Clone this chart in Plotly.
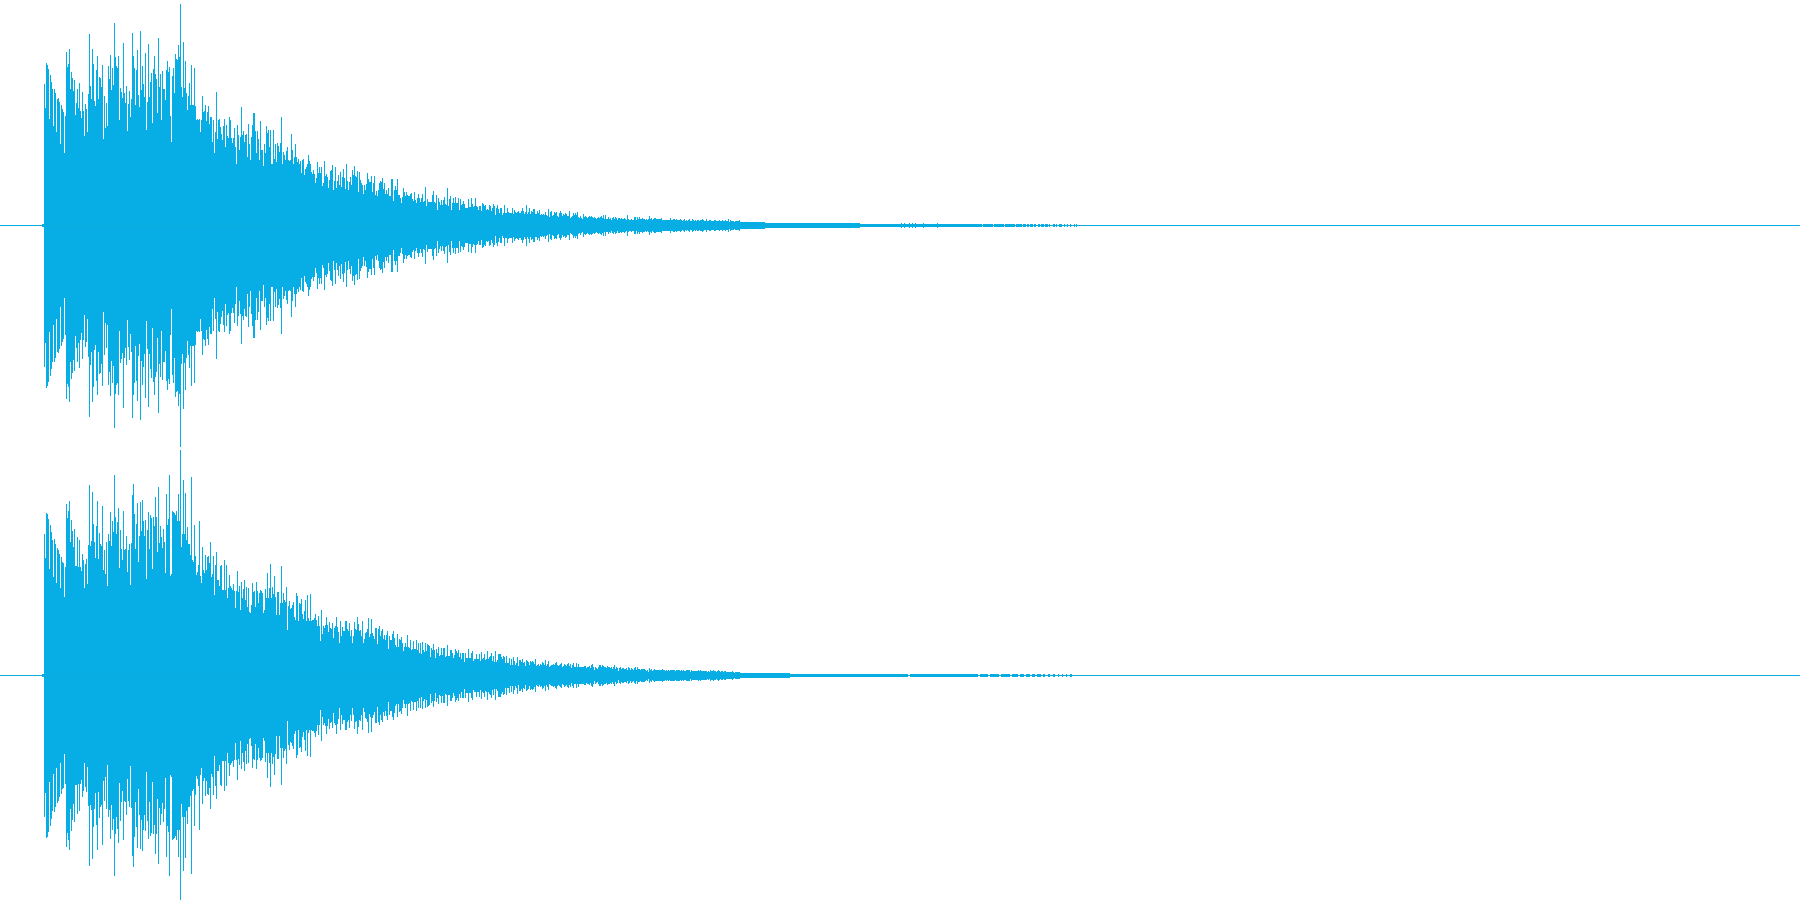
import plotly.graph_objects as go

BLUE = "#06AEE5"

# Peak amplitude per one-column time step.
ch1_from_44 = [141,117,162,160,156,106,150,143,136,99,136,132,93,126,127,123,81,120,116,113,72,109,173,158,161,176,136,153,147,134,145,110,122,136,117,142,114,107,133,114,89,121,116,93,131,191,139,126,176,161,124,119,155,169,126,148,147,138,160,86,129,97,122,99,159,146,170,135,157,140,202,168,159,157,169,105,137,133,127,182,132,122,139,94,121,134,108,126,192,169,157,120,155,175,130,118,194,135,159,141,128,172,95,123,181,128,143,152,102,156,169,151,146,112,187,138]
ch1_from_160 = [151,105,154,136,136,125,155,164,153,158,109,83,149,157,132,171,166,165,180,168,221,138,128,183,137,164,132,115,129,142,120,160,120,120,157,119,105,106,105,106,93,105,129,113,114,120,104,113,119,101,108,108,83,105,72,93,133,86,105,106,98,91,85,99,106,78,100,89,87,108,105,87,82,87,97,78,61,100,90,75,88,118,90,94,83,90,91,68,101,81,65,88,100,112,112,94,72,94,86,65,104,75,75,59,81,72,99,92,95,78,95,61,61,95,66,81,63,82,79,73]
ch1_from_280 = [82,108,61,73,70,65,74,78,65,64,65,91,75,61,68,81,68,63,66,61,64,52,65,66,50,56,58,61,70,64,61,53,51,55,51,42,47,63,52,58,52,58,39,42,64,49,51,48,37,45,54,55,60,35,44,58,37,44,50,40,53,38,48,56,47,36,61,44,35,43,48,40,55,50,59,49,48,54,33,53,45,42,40,31,40,35,41,52,46,43,43,49,33,42,49,30,34,29,35,42,44,43,47,36,42,31,35,31,37,29,29,46,46,24,35,39,35,46,30,30,27,22,28,37,33,29,33,30,29,29,31,32,26,24,33,25,22,27,31,27,23,27,31,23,24,38,19,26,23,23,23,23,30,34,23,22,30,15,27,23]
ch1_from_440 = [20,25,20,25,28,21,20,37,19,26,29,15,22,27,22,28,22,22,27,15,26,20,21,24,21,17,17,17,26,18,18,27,21,18,19,27,19,18,15,19,19,14,22,21,19,20,15,16,15,20,19,14,17,21,19,10,17,20,16,12,17,17,10,12,20,12,12,17,13,12,12,12,17,11,15,13,12,13,14,12,12,14,17,14,11,13,20,11,13,17,11,14,13,16,16,11,11,14,12,15,
10,11,10,11,10,13,10,9,16,8,13,14,9,10,13,12,13,9,8,12,14,12,9,11,10,12,11,9,9,14,7,8,9,12,10,12,10,13,8,7,9,7,6,11,8,9,8,7,8,9,8,9,8,7,8,7,6,7,8,7,8,9,7,10,6,10,6,6,8,6,7,5,7,8,6,8,7,5,7,7,6,7,6,6,7,6,5,10,6,5,5,6,5,5,8,8,5,8,6,8,
6,6,7,6,6,5,6,5,6,9,6,7,5,6,7,7,6,6,6,6,6,7,5,5,5,5,5,5,5,5,7,5,5,6,6,5,6,5,5,5,6,5,4,5,6,4,5,4,5,6,4,4,6,5,4,5,4,5,5,4,5,5,6,5,4,4,6,4,4,5,5,4,4,4,5,5,4,4,4,5,4,4,5,4,4,5,4,4,6,3,5,4,4,4,3,4,4,4,4,5]

ch2_from_44 = [141,117,162,161,156,106,150,143,135,98,136,131,92,127,125,121,87,118,113,112,78,108,171,157,164,174,133,155,144,128,146,109,109,138,108,135,108,104,121,115,87,111,116,91,130,190,129,134,183,151,133,117,149,174,116,142,131,129,169,105,125,101,133,89,141,134,163,129,154,143,200,158,141,153,167,107,145,126,115,164,125,126,139,103,125,131,90,132,180,191,161,126,151,172,113,139,173,144,175,154,139,155,96,145,163,126,160,157,106,158,149,178,158,123,188,132]
ch2_from_160 = [149,138,127,146,133,102,181,150,156,200,99,101,164,163,162,160,164,154,181,154,225,128,141,195,141,182,135,148,131,131,120,198,115,113,150,119,100,103,110,154,99,92,128,105,102,120,105,118,119,112,133,98,101,119,80,110,123,95,95,89,109,110,85,85,115,85,110,77,87,100,89,87,85,91,84,67,84,104,83,89,65,93,77,86,95,75,88,68,87,63,62,70,92,83,84,68,93,84,72,82,85,84,82,62,65,86,77,102,77,87,111,77,88,81,99,78,60,83,83,60]
ch2_from_280 = [72,109,72,82,75,73,88,45,69,74,66,67,70,73,58,55,82,79,54,72,71,76,61,56,64,75,54,80,57,54,81,54,55,55,57,61,55,49,59,49,34,65,41,49,47,50,58,50,43,53,47,46,52,37,47,49,58,48,43,32,54,39,48,44,44,54,54,46,44,52,39,45,32,39,53,46,45,58,51,44,45,39,54,32,36,42,43,46,57,38,41,56,42,39,36,47,47,31,46,49,39,44,46,36,40,35,40,44,26,39,35,35,41,44,37,30,28,41,28,36,35,38,32,24,28,32,28,40,28,27,35,25,26,34,26,26,35,25,32,22,32,21,33,25,23,32,24,31,30,29,18,27,25,31,25,17,26,22,28,19]
ch2_from_440 = [20,27,20,27,27,18,19,30,19,19,25,25,22,17,20,26,24,22,25,18,22,16,22,22,13,22,17,17,26,17,17,22,24,14,16,16,21,16,16,21,14,23,16,17,21,15,16,24,16,18,19,22,14,19,13,24,13,15,21,21,21,18,16,19,18,12,19,12,12,17,10,16,10,18,14,10,12,18,9,15,15,13,16,12,13,9,15,14,13,10,14,13,14,13,11,16,9,10,11,9,
11,10,13,12,10,15,9,11,14,8,9,10,10,11,10,12,13,10,9,10,11,12,8,9,11,10,9,11,12,9,11,7,10,12,8,8,12,8,11,8,8,8,8,8,9,9,7,8,8,9,7,10,11,8,5,8,7,6,8,10,10,8,10,9,8,8,7,9,8,8,7,8,6,8,10,6,8,7,4,7,8,6,7,7,6,6,7,5,8,7,5,7,6,5,7,8,5,8,6,6,
5,6,6,6,6,5,4,5,3,7,5,6,4,5,6,5,5,5,5,5,5,5,6,5,5,4,5,4,5,4,5,5,5,5,5,4,5,5,5,5,4,5,4,5,4,4,5,5,5,5,3,5,4,4,4,4,4,4,5,4,5,4,4,4,4,4,4,3,4,3,5,4,4,5,4,4,3,4,5,4,3,4,4,3,4,4,3,3,3,3,3,3,4,3,2,3,3,3,3,3]

# Quiet tail: spans of near-constant amplitude (start, end, amplitude).
ch1_tail_start = [42,740,765,860,900,901,904,909,912,915,923,937,983,994,1005,1016,1023,1027,1030,1034,1038,1041,1045,1049,1053,1056,1059,1064,1067,1070,1074,1076]
ch1_tail_end   = [44,765,860,900,982,902,905,910,913,916,924,938,993,1004,1015,1022,1026,1029,1033,1036,1040,1044,1048,1050,1055,1057,1062,1065,1068,1071,1075,1077]
ch1_tail_amp   = [1,3,2,1,1,2,2,2,2,2,2,2,1,1,1,1,1,1,1,1,1,1,1,1,1,1,1,1,1,1,1,1]
ch2_tail_start = [42,740,790,910,980,990,1001,1012,1020,1026,1032,1037,1043,1048,1053,1058,1062,1066,1070]
ch2_tail_end   = [44,790,908,978,988,999,1010,1018,1024,1030,1035,1041,1045,1050,1055,1059,1063,1067,1072]
ch2_tail_amp   = [1,2,1,1,1,1,1,1,1,1,1,1,1,1,1,1,1,1,1]

segments1 = [(44, ch1_from_44), (160, ch1_from_160), (280, ch1_from_280), (440, ch1_from_440)]
segments2 = [(44, ch2_from_44), (160, ch2_from_160), (280, ch2_from_280), (440, ch2_from_440)]


def build(segments, t0, t1, ta):
    xs, widths, amps = [], [], []
    for start, vals in segments:
        for i, v in enumerate(vals):
            xs.append(start + i + 0.5)
            widths.append(1)
            amps.append(v)
    for a, b, v in zip(t0, t1, ta):
        xs.append((a + b) / 2)
        widths.append(b - a)
        amps.append(v)
    return xs, widths, amps


fig = go.Figure()
for name, seg, t0, t1, ta, yax in [
    ("Left", segments1, ch1_tail_start, ch1_tail_end, ch1_tail_amp, "y"),
    ("Right", segments2, ch2_tail_start, ch2_tail_end, ch2_tail_amp, "y2"),
]:
    xs, ws, amps = build(seg, t0, t1, ta)
    fig.add_trace(go.Bar(
        x=xs, width=ws,
        y=[2 * a + 1 for a in amps],
        base=[-a - 0.5 for a in amps],
        marker=dict(color=BLUE, line=dict(width=0)),
        name=name, xaxis="x", yaxis=yax, showlegend=False, hoverinfo="skip",
    ))
    fig.add_trace(go.Scatter(
        x=[0, 1800], y=[0, 0], mode="lines",
        line=dict(color="#0AABDD", width=1),
        xaxis="x", yaxis=yax, showlegend=False, hoverinfo="skip",
    ))

hidden = dict(visible=False, fixedrange=True)
fig.update_layout(
    width=1800, height=900,
    margin=dict(l=0, r=0, t=0, b=0),
    paper_bgcolor="white", plot_bgcolor="white",
    barmode="overlay", bargap=0,
    xaxis=dict(range=[0, 1800], anchor="y2", **hidden),
    yaxis=dict(range=[-224.5, 225.5], domain=[0.5, 1], **hidden),
    yaxis2=dict(range=[-224.5, 225.5], domain=[0, 0.5], **hidden),
)
fig.write_html("out.html", config={"displayModeBar": False},
               post_script="document.body.style.margin='0';document.body.style.overflow='hidden';")
